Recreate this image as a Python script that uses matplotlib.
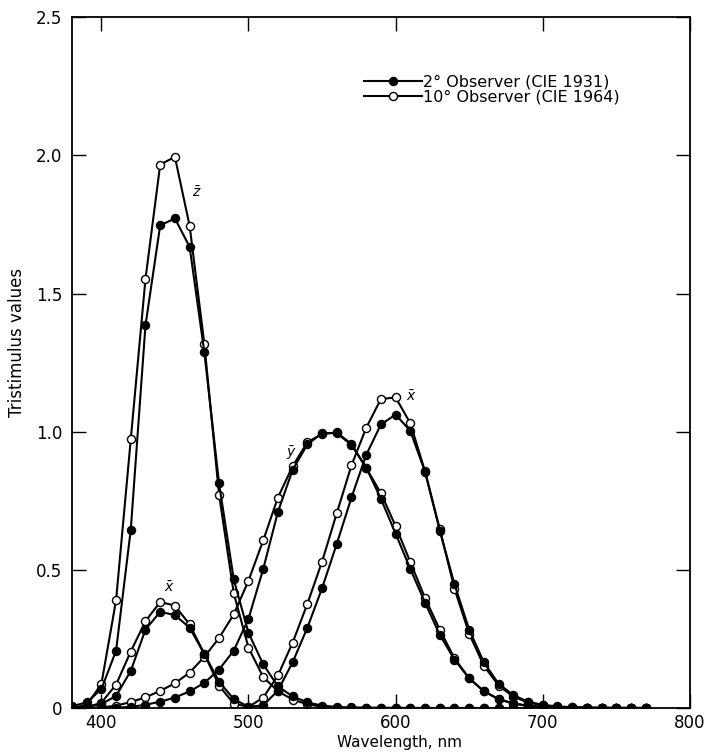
import numpy as np
import matplotlib
matplotlib.use('Agg')
import matplotlib.pyplot as plt

# wavelength grid, nm
wl = np.arange(380, 780, 10)

# CIE 1931 2 degree observer
x2 = [0.001368, 0.004243, 0.01431, 0.04351, 0.13438, 0.2839, 0.34828, 0.3362,
      0.2908, 0.19536, 0.09564, 0.03201, 0.0049, 0.0093, 0.06327, 0.1655,
      0.2904, 0.43345, 0.5945, 0.7621, 0.9163, 1.0263, 1.0622, 1.0026,
      0.85445, 0.6424, 0.4479, 0.2835, 0.1649, 0.0874, 0.04677, 0.0227,
      0.011359, 0.00579, 0.002899, 0.00144, 0.00069, 0.000332, 0.000166, 0.0000831]
y2 = [0.000039, 0.00012, 0.000396, 0.00121, 0.004, 0.0116, 0.023, 0.038,
      0.06, 0.09098, 0.13902, 0.20802, 0.323, 0.503, 0.71, 0.862,
      0.954, 0.99495, 0.995, 0.952, 0.87, 0.757, 0.631, 0.503,
      0.381, 0.265, 0.175, 0.107, 0.061, 0.032, 0.017, 0.00821,
      0.004102, 0.002091, 0.001047, 0.00052, 0.000249, 0.00012, 0.00006, 0.00003]
z2 = [0.00645, 0.02005, 0.06785, 0.2074, 0.6456, 1.3856, 1.74706, 1.77211,
      1.6692, 1.28764, 0.81295, 0.46518, 0.272, 0.1582, 0.07825, 0.04216,
      0.0203, 0.00875, 0.0039, 0.0021, 0.00165, 0.0011, 0.0008, 0.00034,
      0.00019, 0.00005, 0.00002, 0, 0, 0, 0, 0,
      0, 0, 0, 0, 0, 0, 0, 0]

# CIE 1964 10 degree observer
x10 = [0.00016, 0.002362, 0.01911, 0.084736, 0.204492, 0.314679, 0.383734, 0.370702,
       0.302273, 0.195618, 0.080507, 0.016172, 0.003816, 0.037465, 0.117749, 0.236491,
       0.376772, 0.529826, 0.705224, 0.878655, 1.01416, 1.11852, 1.12399, 1.03048,
       0.856297, 0.647467, 0.431567, 0.268329, 0.152568, 0.081261, 0.040851, 0.019941,
       0.009577, 0.004553, 0.002175, 0.001045, 0.000508, 0.000251, 0.000126, 0.000065]
y10 = [0.000017, 0.000253, 0.002004, 0.008756, 0.021391, 0.038676, 0.062077, 0.089456,
       0.128201, 0.18519, 0.253589, 0.339133, 0.460777, 0.606741, 0.761757, 0.875211,
       0.961988, 0.991761, 0.99734, 0.955552, 0.868934, 0.777405, 0.658341, 0.527963,
       0.398057, 0.283493, 0.179828, 0.107633, 0.060281, 0.0318, 0.015905, 0.007749,
       0.003734, 0.00178, 0.000851, 0.000407, 0.000199, 0.000098, 0.000049, 0.000025]
z10 = [0.000705, 0.010482, 0.086011, 0.389366, 0.972542, 1.55348, 1.96728, 1.9948,
       1.74537, 1.31756, 0.772125, 0.415254, 0.218502, 0.112044, 0.060709, 0.030451,
       0.013676, 0.003988, 0, 0, 0, 0, 0, 0,
       0, 0, 0, 0, 0, 0, 0, 0,
       0, 0, 0, 0, 0, 0, 0, 0]

fig = plt.figure(figsize=(7.12, 7.54), dpi=100)
ax = fig.add_axes([0.101, 0.061, 0.868, 0.916])

opn = dict(color='black', lw=1.5, marker='o', ms=5.8, mfc='white', mec='black', mew=1.0)
fil = dict(color='black', lw=1.5, marker='o', ms=5.8, mfc='black', mec='black')

for s in (x10, y10, z10):
    ax.plot(wl, s, **opn)
for s in (x2, y2, z2):
    ax.plot(wl, s, **fil)

# legend proxies
h1, = ax.plot([], [], label='2° Observer (CIE 1931)', **fil)
h2, = ax.plot([], [], label='10° Observer (CIE 1964)', **opn)
ax.legend(handles=[h1, h2], loc='upper left', bbox_to_anchor=(0.4625, 0.927),
          frameon=False, handlelength=3.6, handletextpad=0.1, labelspacing=0.05,
          fontsize=11.5, borderaxespad=0)

# curve labels
ax.text(465, 1.85, r'$\bar{z}$', fontsize=10, ha='center')
ax.text(446, 0.42, r'$\bar{x}$', fontsize=10, ha='center')
ax.text(529, 0.91, r'$\bar{y}$', fontsize=10, ha='center')
ax.text(611, 1.11, r'$\bar{x}$', fontsize=10, ha='center')

ax.set_xlim(380, 800)
ax.set_ylim(0, 2.5)
ax.set_xticks([400, 500, 600, 700, 800])
ax.set_yticks([0, 0.5, 1.0, 1.5, 2.0, 2.5])
ax.set_yticklabels(['0', '0.5', '1.0', '1.5', '2.0', '2.5'])
ax.tick_params(direction='in', length=10, width=1, top=True, right=True,
               labelsize=12, pad=7)
ax.tick_params(axis='x', pad=4)
for sp_ in ax.spines.values():
    sp_.set_linewidth(1.3)

ax.set_xlabel('Wavelength, nm', fontsize=11)
ax.set_ylabel('Tristimulus values', fontsize=12)
ax.xaxis.set_label_coords(0.53, -0.039)
ax.yaxis.set_label_coords(-0.075, 0.53)

plt.savefig('out.png', dpi=100)
